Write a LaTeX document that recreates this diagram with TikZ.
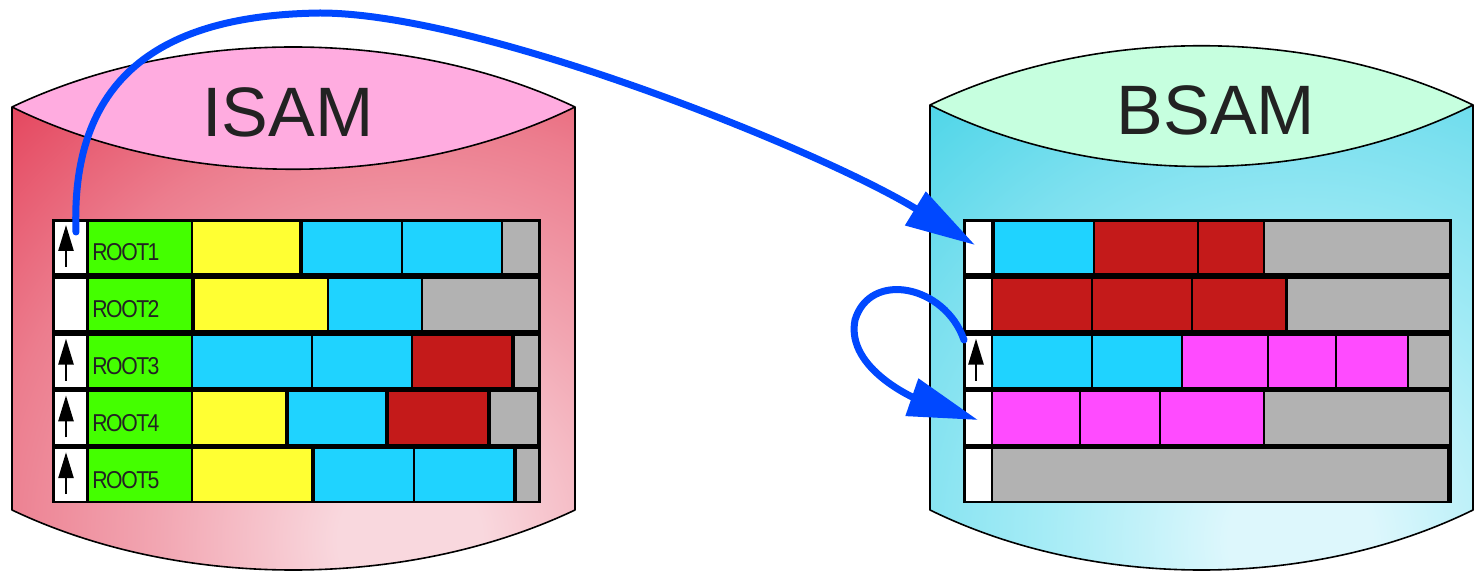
\documentclass[tikz,border=0pt]{standalone}
\usepackage{fontspec}
\setmainfont{Liberation Sans}
\usetikzlibrary{arrows.meta}

\definecolor{isamtop}{HTML}{FFACE0}
\definecolor{isam0}{HTML}{F9D8DE}
\definecolor{isam1}{HTML}{F2A6B2}
\definecolor{isam2}{HTML}{EC7D8E}
\definecolor{isam3}{HTML}{E33C55}
\definecolor{bsamtop}{HTML}{C6FFDF}
\definecolor{bsam0}{HTML}{DDF7FC}
\definecolor{bsam1}{HTML}{A6ECF6}
\definecolor{bsam2}{HTML}{7CE0EF}
\definecolor{bsam3}{HTML}{40D2E6}
\definecolor{keygreen}{HTML}{44FF00}
\definecolor{recyellow}{HTML}{FFFF33}
\definecolor{reccyan}{HTML}{1FD3FF}
\definecolor{recred}{HTML}{C41A1A}
\definecolor{recgray}{HTML}{B2B2B2}
\definecolor{recmagenta}{HTML}{FF4BFF}
\definecolor{linkblue}{HTML}{0048FF}
\definecolor{inkgray}{HTML}{222222}

% concentric glow, brightest at the centre of the shaded square
\pgfdeclareradialshading{isamglow}{\pgfpoint{0bp}{0bp}}{%
  color(0bp)=(isam0); color(3bp)=(isam0); color(10.5bp)=(isam1);
  color(17.5bp)=(isam2); color(26bp)=(isam3); color(40bp)=(isam3)}
\pgfdeclareradialshading{bsamglow}{\pgfpoint{0bp}{0bp}}{%
  color(0bp)=(bsam0); color(3bp)=(bsam0); color(10.5bp)=(bsam1);
  color(17.5bp)=(bsam2); color(26bp)=(bsam3); color(40bp)=(bsam3)}

% one record segment: row, left x, right x, colour
\newcommand\recseg[4]{%
  \fill[#4] (#2,{219+56.8*(#1-1)+3}) rectangle (#3,{219+56.8*#1-2.5});}
% up-pointer in the first cell of a row
\newcommand\recptr[2]{%
  \draw[ptrarrow] (#2,{219+56.8*(#1-1)+48}) -- (#2,{219+56.8*(#1-1)+6});}

\begin{document}
\begin{tikzpicture}[x=0.5pt,y=-0.5pt,
  outline/.style={draw=black,line width=0.8pt,line join=round},
  title/.style={font=\fontsize{35pt}{35pt}\selectfont,text=inkgray,inner sep=0pt,anchor=base},
  keylabel/.style={font=\fontsize{10.6pt}{11pt}\selectfont\addfontfeature{LetterSpace=-7},
    text=inkgray,inner sep=0pt,anchor=base west,yscale=1.15},
  ptrarrow/.style={-{Triangle[length=13pt,width=7.5pt]},line width=1.3pt},
  link/.style={draw=linkblue,line width=3.5pt,line cap=round,
    -{Triangle[length=35pt,width=19pt]}}]
\useasboundingbox (0,0) rectangle (1475,571);

% ISAM disk
\begin{scope}
  \clip (12,107) -- (12,510) .. controls (180,590) and (406,590) .. (575,510)
    -- (575,107) -- cycle;
  \shade[shading=isamglow] (-190,-60) rectangle (1010,1140);
\end{scope}
\draw[outline] (12,107) -- (12,510) .. controls (180,590) and (406,590) .. (575,510)
  -- (575,107);
\draw[outline,fill=isamtop] (12,107) .. controls (180,27) and (406,27) .. (575,107)
  .. controls (406,190) and (180,190) .. cycle;
\node[title] (isam) at (288,137) {ISAM};

% BSAM disk
\begin{scope}
  \clip (930,105) -- (930,510) .. controls (1093,590) and (1310,590) .. (1473,510)
    -- (1473,105) -- cycle;
  \shade[shading=bsamglow] (700,-60) rectangle (1900,1140);
\end{scope}
\draw[outline] (930,105) -- (930,510) .. controls (1093,590) and (1310,590) .. (1473,510)
  -- (1473,105);
\draw[outline,fill=bsamtop] (930,105) .. controls (1093,26) and (1310,26) .. (1473,105)
  .. controls (1310,187) and (1093,187) .. cycle;
\node[title] (bsam) at (1216,135) {BSAM};

% ISAM records
\fill[black] (52,219) rectangle (541,503);
\foreach \r in {1,...,5} {
  \recseg{\r}{55}{86}{white}
  \recseg{\r}{89}{191}{keygreen}
}
\recseg{1}{193}{299}{recyellow}\recseg{1}{303}{401}{reccyan}\recseg{1}{403}{501}{reccyan}\recseg{1}{503}{538}{recgray}
\recseg{2}{195}{327}{recyellow}\recseg{2}{329}{421}{reccyan}\recseg{2}{423}{538}{recgray}
\recseg{3}{193}{311}{reccyan}\recseg{3}{313}{411}{reccyan}\recseg{3}{413}{511}{recred}\recseg{3}{515}{538}{recgray}
\recseg{4}{193}{285}{recyellow}\recseg{4}{289}{385}{reccyan}\recseg{4}{389}{487}{recred}\recseg{4}{491}{537}{recgray}
\recseg{5}{193}{311}{recyellow}\recseg{5}{315}{413}{reccyan}\recseg{5}{415}{513}{reccyan}\recseg{5}{517}{538}{recgray}
\foreach \r in {1,3,4,5} { \recptr{\r}{66} }
\node[keylabel] (root1) at (92,261) {ROOT1};
\node[keylabel] (root2) at (92,317.8) {ROOT2};
\node[keylabel] (root3) at (92,374.6) {ROOT3};
\node[keylabel] (root4) at (92,431.4) {ROOT4};
\node[keylabel] (root5) at (92,488.2) {ROOT5};

% BSAM blocks
\fill[black] (963,219) rectangle (1452,503);
\foreach \r in {1,...,5} { \recseg{\r}{966}{991}{white} }
\recseg{1}{995}{1093}{reccyan}\recseg{1}{1095}{1197}{recred}\recseg{1}{1199}{1263}{recred}\recseg{1}{1265}{1449}{recgray}
\recseg{2}{993}{1091}{recred}\recseg{2}{1093}{1191}{recred}\recseg{2}{1193}{1285}{recred}\recseg{2}{1288}{1449}{recgray}
\recseg{3}{993}{1091}{reccyan}\recseg{3}{1093}{1181}{reccyan}\recseg{3}{1183}{1267}{recmagenta}\recseg{3}{1269}{1335}{recmagenta}\recseg{3}{1337}{1407}{recmagenta}\recseg{3}{1409}{1449}{recgray}
\recseg{4}{993}{1079}{recmagenta}\recseg{4}{1081}{1159}{recmagenta}\recseg{4}{1161}{1263}{recmagenta}\recseg{4}{1265}{1449}{recgray}
\recseg{5}{993}{1447}{recgray}
\recptr{3}{976}

% pointer links
\coordinate (isamptr) at (76,232);
\coordinate (bsamblk1) at (975,245);
\coordinate (bsamptr) at (964,340);
\coordinate (bsamblk4) at (978,420);
\draw[link] (isamptr) .. controls (70,70) and (170,15) .. (320,13)
  .. controls (480,13) and (820,150) .. (bsamblk1);
\draw[link] (bsamptr) .. controls (945,285) and (870,270) .. (855,320)
  .. controls (845,370) and (920,400) .. (bsamblk4);
\end{tikzpicture}
\end{document}
